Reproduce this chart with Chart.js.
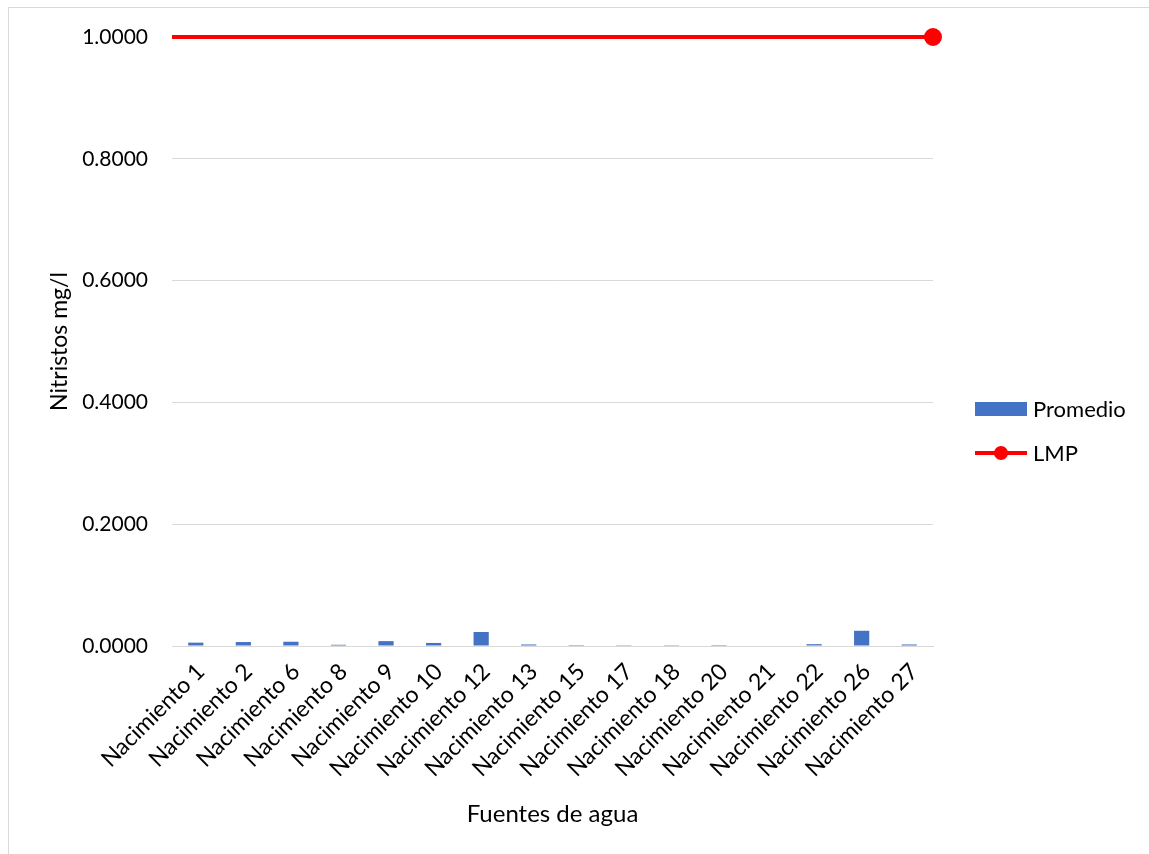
<!DOCTYPE html>
<html>
<head>
<meta charset="utf-8">
<script src="https://cdn.jsdelivr.net/npm/chart.js@4/dist/chart.umd.min.js"></script>
<style>
  html, body { margin: 0; padding: 0; background: #fff; }
  #wrap { width: 1149px; height: 854px; position: relative; }
</style>
</head>
<body>
<div id="wrap"><canvas id="chart" width="1149" height="854"></canvas></div>
<script>
const fuentes = ['Nacimiento 1', 'Nacimiento 2', 'Nacimiento 6', 'Nacimiento 8', 'Nacimiento 9',
  'Nacimiento 10', 'Nacimiento 12', 'Nacimiento 13', 'Nacimiento 15', 'Nacimiento 17',
  'Nacimiento 18', 'Nacimiento 20', 'Nacimiento 21', 'Nacimiento 22', 'Nacimiento 26', 'Nacimiento 27']
const promedio = [0.0055, 0.0065, 0.0070, 0.0020, 0.0080, 0.0050, 0.0230, 0.0025,
  0.0015, 0.0003, 0.0003, 0.0015, 0.0008, 0.0030, 0.0250, 0.0025]
const lmpX = [0, 1]
const lmp = [1, 1]

const font = 'Lato, "Open Sans", sans-serif'
const gridColor = '#d9d9d9'

// legend drawn by hand: bar swatch for Promedio, line with dot for LMP
const sideLegend = {
  id: 'sideLegend',
  afterDraw(chart) {
    const ctx = chart.ctx
    const x = chart.chartArea.right + 42
    ctx.save()
    ctx.font = '22px ' + font
    ctx.textBaseline = 'middle'
    ctx.fillStyle = '#4472C4'
    ctx.fillRect(x, 402, 52, 14)
    ctx.fillStyle = '#000'
    ctx.fillText(chart.data.datasets[0].label, x + 58, 410)

    const y = 453
    ctx.strokeStyle = '#ff0000'
    ctx.lineWidth = 4
    ctx.beginPath()
    ctx.moveTo(x, y)
    ctx.lineTo(x + 52, y)
    ctx.stroke()
    ctx.fillStyle = '#ff0000'
    ctx.beginPath()
    ctx.arc(x + 26, y, 7, 0, Math.PI * 2)
    ctx.fill()
    ctx.fillStyle = '#000'
    ctx.fillText(chart.data.datasets[1].label, x + 58, y + 1)
    ctx.restore()
  }
}

const frame = {
  id: 'frame',
  beforeDraw(chart) {
    const ctx = chart.ctx
    ctx.save()
    ctx.fillStyle = '#fff'
    ctx.fillRect(0, 0, chart.width, chart.height)
    ctx.strokeStyle = gridColor
    ctx.lineWidth = 1
    ctx.strokeRect(8.5, 7.5, chart.width, chart.height)
    ctx.restore()
  }
}

new Chart(document.getElementById('chart'), {
  data: {
    labels: fuentes,
    datasets: [
      {
        type: 'bar',
        label: 'Promedio',
        data: promedio,
        backgroundColor: '#4472C4',
        grouped: false,
        categoryPercentage: 1,
        barPercentage: 0.32,
        xAxisID: 'x',
        order: 2
      },
      {
        type: 'line',
        label: 'LMP',
        data: lmpX.map((v, i) => ({ x: v, y: lmp[i] })),
        borderColor: '#ff0000',
        backgroundColor: '#ff0000',
        borderWidth: 4,
        pointRadius: [0, 7],
        pointHoverRadius: [0, 7],
        xAxisID: 'x2',
        clip: false,
        order: 1
      }
    ]
  },
  options: {
    responsive: false,
    animation: false,
    layout: { padding: { top: 37, right: 216, left: 40, bottom: 25 } },
    plugins: {
      legend: { display: false },
      tooltip: { enabled: false }
    },
    scales: {
      x: {
        type: 'category',
        offset: true,
        grid: { display: false, drawTicks: false },
        border: { color: gridColor },
        ticks: {
          color: '#000',
          font: { family: font, size: 23 },
          minRotation: 45,
          maxRotation: 45,
          autoSkip: false,
          padding: 12,
          labelOffset: 5
        },
        title: {
          display: true,
          text: 'Fuentes de agua',
          color: '#000',
          font: { family: font, size: 24 },
          padding: { top: 7, bottom: 0 }
        },
        afterFit(scale) { scale.height = 854 - 25 - 646 }
      },
      x2: {
        type: 'linear',
        display: false,
        min: 0,
        max: 1
      },
      y: {
        min: 0,
        max: 1,
        ticks: {
          stepSize: 0.2,
          color: '#000',
          font: { family: font, size: 21 },
          padding: 24,
          callback: (v) => v.toFixed(4)
        },
        grid: { color: gridColor, drawTicks: false },
        border: { display: false },
        title: {
          display: true,
          text: 'Nitristos mg/l',
          color: '#000',
          font: { family: font, size: 23 },
          padding: { top: 6, bottom: 0 }
        },
        afterFit(scale) { scale.width = 172 - 40 }
      }
    }
  },
  plugins: [frame, sideLegend]
})
</script>
</body>
</html>
